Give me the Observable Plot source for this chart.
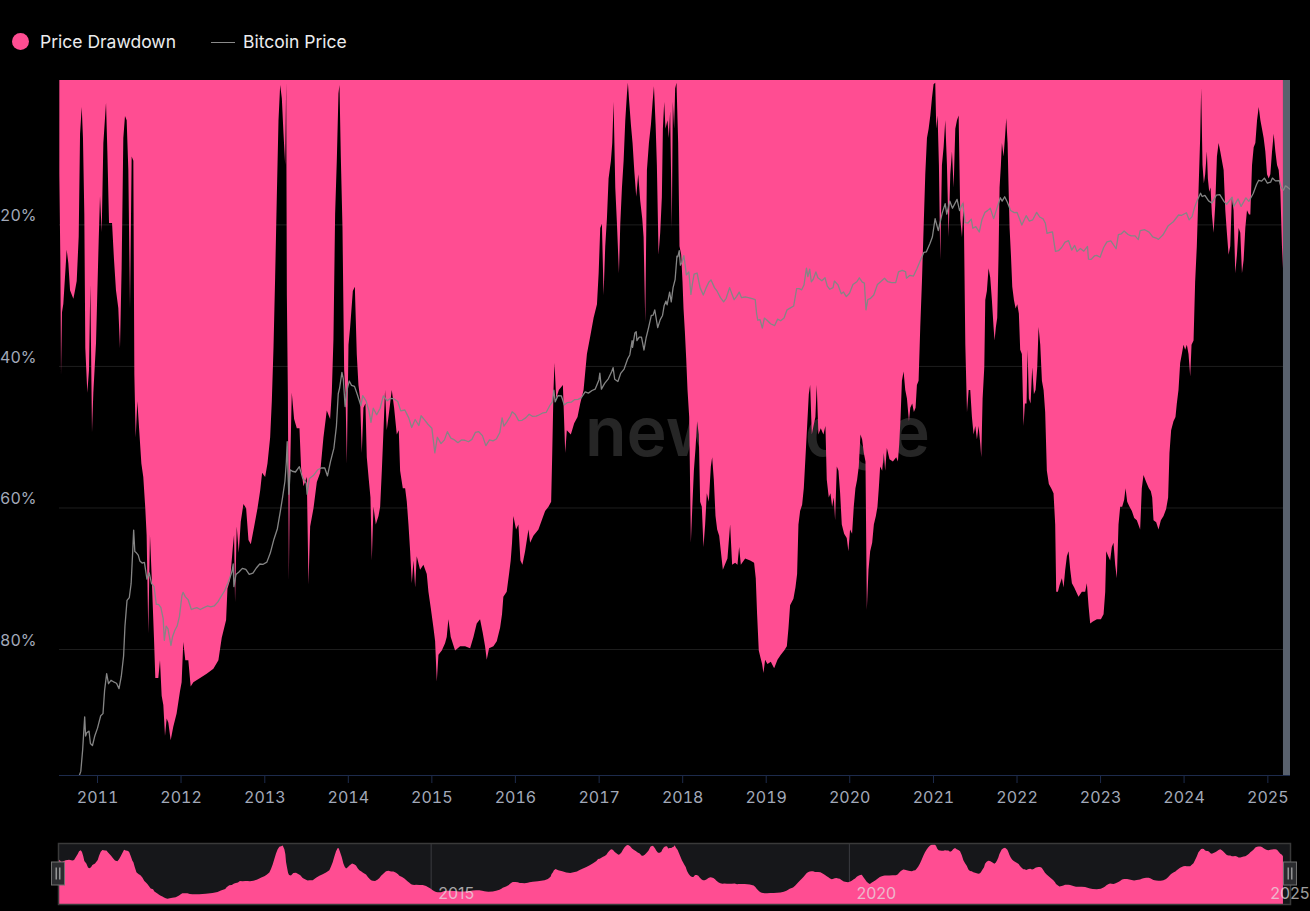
<!DOCTYPE html>
<html>
<head>
<meta charset="utf-8">
<script src="https://cdn.jsdelivr.net/npm/d3@7"></script>
<script src="https://cdn.jsdelivr.net/npm/@observablehq/plot@0.6"></script>
<style>
  html, body { margin: 0; padding: 0; background: #000; width: 1310px; height: 911px; overflow: hidden; }
  body { font-family: Inter, "Noto Sans", sans-serif; }
  svg { display: block; }
  #legend { position: relative; height: 70px; color: #ececee; font-size: 17.5px; }
  #legend .item { position: absolute; top: 30px; height: 24px; line-height: 24px; white-space: nowrap; }
  #legend .dot { position: absolute; left: 12px; top: 33px; width: 17px; height: 17px; border-radius: 50%; background: #ff4d92; }
  #legend .ln { position: absolute; left: 211px; top: 42px; width: 24px; height: 0; border-top: 1.5px solid #8a8a8a; }
</style>
</head>
<body>
<div id="legend">
  <div class="dot"></div><div class="item" style="left:40px">Price Drawdown</div>
  <div class="ln"></div><div class="item" style="left:243px">Bitcoin Price</div>
</div>
<div id="main"></div>
<div id="nav"></div>
<script>
// ---------- DATA ----------
// Price drawdown from all-time high, % (decimal year, drawdown %)
const priceDrawdown = [
[2010.549,12.9],[2010.561,24.9],[2010.569,41.2],[2010.581,32.4],[2010.597,31.2],[2010.637,23.6],[2010.657,25.5],[2010.677,29.3],[2010.717,30.5],[2010.737,29.3],[2010.757,28.0],[2010.781,21.7],[2010.797,7.2],[2010.817,3.4],[2010.832,7.8],[2010.848,18.5],[2010.860,37.5],[2010.884,43.8],[2010.904,40.6],[2010.920,28.6],[2010.940,49.4],[2010.956,43.8],[2010.988,36.8],
[2011.020,22.3],[2011.036,16.0],[2011.056,21.1],[2011.076,8.5],[2011.108,2.8],[2011.124,9.7],[2011.144,19.8],[2011.180,19.8],[2011.203,24.9],[2011.227,29.3],[2011.255,31.8],[2011.275,37.5],[2011.295,26.1],[2011.315,7.8],[2011.335,4.7],[2011.355,5.3],[2011.375,12.3],[2011.395,31.8],[2011.415,10.4],[2011.435,11.0],[2011.447,41.2],[2011.463,50.1],[2011.483,45.0],[2011.507,49.4],[2011.531,53.8],[2011.554,55.7],[2011.578,60.1],[2011.594,63.9],[2011.614,77.8],[2011.634,63.9],[2011.654,69.6],[2011.682,78.4],[2011.698,84.1],[2011.734,84.1],[2011.754,81.6],[2011.774,86.6],[2011.794,87.9],[2011.814,92.3],[2011.834,89.8],[2011.854,90.4],[2011.882,92.9],[2011.913,91.0],[2011.953,89.1],[2011.993,86.0],
[2012.013,84.7],[2012.033,79.0],[2012.057,81.6],[2012.093,81.6],[2012.121,85.3],[2012.153,84.7],[2012.233,84.1],[2012.312,83.5],[2012.392,82.8],[2012.452,81.6],[2012.492,78.4],[2012.544,75.9],[2012.560,71.5],[2012.592,70.2],[2012.623,65.8],[2012.639,63.9],[2012.651,73.4],[2012.671,62.7],[2012.695,66.4],[2012.719,62.0],[2012.751,59.5],[2012.783,60.1],[2012.811,64.6],[2012.839,65.2],[2012.879,62.7],[2012.919,60.1],[2012.951,57.6],[2012.974,55.1],
[2013.010,55.7],[2013.038,53.8],[2013.070,50.1],[2013.090,45.0],[2013.110,37.5],[2013.130,27.4],[2013.150,16.0],[2013.170,5.3],[2013.190,0.3],[2013.210,2.2],[2013.230,7.2],[2013.250,11.6],[2013.262,0.0],[2013.270,29.9],[2013.282,43.8],[2013.294,70.2],[2013.306,56.4],[2013.329,43.8],[2013.357,47.5],[2013.389,48.8],[2013.421,48.8],[2013.441,54.5],[2013.469,57.0],[2013.509,55.7],[2013.529,70.9],[2013.549,62.7],[2013.589,60.1],[2013.629,56.4],[2013.669,55.1],[2013.708,50.1],[2013.748,46.3],[2013.788,47.5],[2013.808,43.8],[2013.828,36.2],[2013.848,18.5],[2013.868,11.0],[2013.888,1.5],[2013.900,0.3],[2013.916,10.4],[2013.936,20.4],[2013.956,40.6],[2013.972,43.8],[2013.988,53.8],
[2014.008,37.0],[2014.028,34.5],[2014.060,29.4],[2014.084,28.8],[2014.107,38.3],[2014.127,42.7],[2014.147,44.6],[2014.167,52.3],[2014.187,45.9],[2014.211,45.3],[2014.227,52.9],[2014.251,56.1],[2014.271,58.6],[2014.287,67.5],[2014.307,59.9],[2014.335,62.4],[2014.367,61.2],[2014.387,59.9],[2014.407,54.8],[2014.427,49.1],[2014.446,43.4],[2014.466,49.1],[2014.494,46.5],[2014.526,43.4],[2014.554,45.9],[2014.586,49.7],[2014.610,49.1],[2014.626,54.8],[2014.658,57.3],[2014.686,57.3],[2014.706,59.2],[2014.726,62.4],[2014.746,66.2],[2014.766,70.7],[2014.786,67.5],[2014.806,71.3],[2014.825,66.9],[2014.865,68.8],[2014.905,68.1],[2014.945,69.4],[2014.965,71.9],[2014.993,74.2],
[2015.025,77.0],[2015.045,78.9],[2015.065,84.6],[2015.085,80.8],[2015.125,80.2],[2015.164,79.2],[2015.184,78.3],[2015.204,75.8],[2015.232,78.3],[2015.284,80.2],[2015.344,79.6],[2015.404,79.6],[2015.464,79.9],[2015.504,78.3],[2015.543,76.4],[2015.583,75.8],[2015.615,77.7],[2015.643,79.6],[2015.663,81.5],[2015.691,79.9],[2015.743,79.6],[2015.783,78.9],[2015.823,77.0],[2015.846,75.1],[2015.862,72.6],[2015.902,71.9],[2015.930,69.4],[2015.950,67.5],[2015.966,65.0],[2015.982,61.2],
[2016.014,63.1],[2016.042,62.4],[2016.066,67.5],[2016.090,68.1],[2016.122,66.2],[2016.162,63.1],[2016.182,65.0],[2016.221,64.0],[2016.281,63.1],[2016.321,61.8],[2016.361,60.5],[2016.401,59.9],[2016.433,59.2],[2016.445,52.9],[2016.461,43.4],[2016.473,39.6],[2016.493,44.6],[2016.525,43.4],[2016.573,42.7],[2016.601,52.3],[2016.620,49.1],[2016.668,49.7],[2016.708,48.1],[2016.748,47.2],[2016.780,45.3],[2016.820,43.4],[2016.860,38.3],[2016.900,35.8],[2016.940,33.2],[2016.980,31.3],
[2017.000,26.9],[2017.019,20.5],[2017.039,19.9],[2017.059,30.0],[2017.079,23.1],[2017.099,19.2],[2017.119,13.5],[2017.147,11.0],[2017.163,8.5],[2017.179,2.7],[2017.199,14.8],[2017.219,19.9],[2017.243,26.9],[2017.259,19.9],[2017.279,14.8],[2017.299,11.0],[2017.319,5.3],[2017.339,1.5],[2017.350,0.0],[2017.366,2.7],[2017.386,5.9],[2017.406,8.5],[2017.426,12.3],[2017.450,16.1],[2017.474,12.9],[2017.498,16.7],[2017.522,19.2],[2017.538,21.8],[2017.558,33.8],[2017.578,12.3],[2017.602,8.5],[2017.626,5.9],[2017.646,2.7],[2017.662,0.5],[2017.682,5.9],[2017.697,11.6],[2017.717,24.3],[2017.737,21.2],[2017.757,16.1],[2017.769,6.5],[2017.785,2.7],[2017.800,6.5],[2017.824,5.3],[2017.840,7.8],[2017.856,4.0],[2017.876,20.5],[2017.888,2.7],[2017.904,6.5],[2017.916,0.8],[2017.932,0.0],[2017.952,8.5],[2017.968,23.1],[2017.988,24.3],
[2018.004,28.1],[2018.016,31.9],[2018.032,35.1],[2018.048,38.9],[2018.064,43.4],[2018.084,47.2],[2018.104,65.0],[2018.124,59.2],[2018.140,54.8],[2018.160,51.6],[2018.179,47.8],[2018.199,49.7],[2018.215,59.2],[2018.235,59.9],[2018.255,65.6],[2018.275,62.4],[2018.295,58.0],[2018.319,59.2],[2018.343,54.2],[2018.359,52.9],[2018.379,56.1],[2018.399,61.2],[2018.419,63.1],[2018.443,64.0],[2018.463,66.2],[2018.487,68.8],[2018.511,68.1],[2018.542,67.2],[2018.574,62.4],[2018.598,68.1],[2018.634,67.8],[2018.662,68.1],[2018.682,65.6],[2018.702,68.1],[2018.754,67.2],[2018.814,67.5],[2018.861,67.8],[2018.881,70.0],[2018.897,75.1],[2018.917,80.2],[2018.937,81.2],[2018.957,82.1],[2018.973,83.4],[2018.993,81.5],
[2019.021,82.1],[2019.061,81.8],[2019.101,82.7],[2019.141,81.5],[2019.181,80.8],[2019.221,80.2],[2019.253,79.6],[2019.273,77.0],[2019.292,73.8],[2019.332,72.9],[2019.356,71.3],[2019.376,69.4],[2019.392,62.4],[2019.412,60.5],[2019.436,59.6],[2019.456,57.3],[2019.476,52.9],[2019.496,48.5],[2019.516,44.0],[2019.532,42.7],[2019.552,49.7],[2019.572,48.5],[2019.595,47.2],[2019.611,42.7],[2019.631,49.7],[2019.659,48.8],[2019.691,49.7],[2019.715,48.5],[2019.731,56.1],[2019.755,58.6],[2019.775,58.0],[2019.795,59.9],[2019.815,58.6],[2019.831,61.8],[2019.851,54.2],[2019.871,54.8],[2019.891,58.0],[2019.911,62.4],[2019.939,63.7],[2019.970,64.3],[2019.990,66.2],
[2020.010,63.1],[2020.034,63.7],[2020.054,59.9],[2020.074,57.3],[2020.094,56.1],[2020.114,54.2],[2020.134,49.7],[2020.154,50.4],[2020.174,52.3],[2020.194,53.5],[2020.210,74.5],[2020.230,68.8],[2020.250,66.2],[2020.274,65.0],[2020.294,62.4],[2020.318,61.2],[2020.337,59.9],[2020.353,57.3],[2020.369,54.2],[2020.393,54.8],[2020.413,52.3],[2020.429,54.8],[2020.449,51.6],[2020.481,53.2],[2020.521,53.5],[2020.561,52.9],[2020.581,53.5],[2020.597,51.0],[2020.613,47.2],[2020.629,42.1],[2020.649,40.8],[2020.669,43.4],[2020.689,44.6],[2020.713,47.8],[2020.729,45.9],[2020.752,45.3],[2020.772,46.5],[2020.792,45.9],[2020.808,42.7],[2020.828,42.1],[2020.848,34.5],[2020.868,28.1],[2020.888,20.5],[2020.908,12.9],[2020.928,7.8],[2020.948,6.5],[2020.968,4.6],[2020.988,2.1],
[2021.007,0.2],[2021.027,0.0],[2021.039,6.5],[2021.055,4.6],[2021.071,11.6],[2021.087,25.0],[2021.107,11.6],[2021.127,9.1],[2021.147,5.3],[2021.167,11.6],[2021.187,21.8],[2021.207,12.9],[2021.227,9.7],[2021.247,14.8],[2021.267,6.5],[2021.287,5.3],[2021.307,4.6],[2021.327,19.2],[2021.347,21.8],[2021.367,16.7],[2021.387,37.0],[2021.407,46.5],[2021.427,43.4],[2021.446,43.4],[2021.466,47.2],[2021.486,49.7],[2021.506,48.5],[2021.526,50.4],[2021.546,48.5],[2021.566,51.0],[2021.578,52.9],[2021.594,44.6],[2021.614,40.2],[2021.626,30.7],[2021.645,29.4],[2021.665,26.2],[2021.685,27.5],[2021.705,30.7],[2021.725,34.5],[2021.737,36.4],[2021.753,34.5],[2021.769,33.2],[2021.785,24.3],[2021.797,14.8],[2021.813,11.6],[2021.825,8.5],[2021.845,10.4],[2021.865,7.2],[2021.877,5.0],[2021.893,8.5],[2021.905,14.8],[2021.917,20.5],[2021.933,24.3],[2021.949,28.8],[2021.969,30.7],[2021.989,31.9],
[2022.009,31.3],[2022.028,32.6],[2022.044,37.7],[2022.064,38.3],[2022.084,48.5],[2022.100,45.3],[2022.120,45.3],[2022.132,37.7],[2022.148,44.6],[2022.168,45.3],[2022.188,40.2],[2022.208,44.0],[2022.228,43.4],[2022.248,40.2],[2022.264,34.5],[2022.284,37.0],[2022.304,42.1],[2022.324,43.4],[2022.343,46.5],[2022.363,54.8],[2022.387,56.7],[2022.415,57.3],[2022.443,58.0],[2022.463,62.4],[2022.475,71.9],[2022.495,71.9],[2022.515,71.0],[2022.543,70.0],[2022.563,71.3],[2022.583,68.8],[2022.603,66.9],[2022.623,66.2],[2022.643,68.8],[2022.663,70.7],[2022.691,71.3],[2022.714,71.9],[2022.742,72.6],[2022.782,71.9],[2022.822,71.9],[2022.842,70.7],[2022.862,73.9],[2022.882,76.4],[2022.914,76.1],[2022.962,75.8],
[2023.010,75.8],[2023.042,75.1],[2023.062,71.9],[2023.074,66.2],[2023.098,66.9],[2023.121,67.5],[2023.141,65.6],[2023.161,65.0],[2023.181,68.1],[2023.201,70.0],[2023.221,62.4],[2023.241,59.9],[2023.265,59.9],[2023.289,58.9],[2023.305,57.3],[2023.325,59.2],[2023.353,59.9],[2023.381,60.5],[2023.409,61.5],[2023.440,61.8],[2023.480,63.1],[2023.500,57.3],[2023.520,55.4],[2023.552,56.4],[2023.584,57.3],[2023.608,57.7],[2023.624,58.6],[2023.640,61.8],[2023.672,62.1],[2023.700,63.1],[2023.728,61.8],[2023.760,61.2],[2023.791,60.2],[2023.815,58.6],[2023.831,52.3],[2023.851,49.1],[2023.879,47.8],[2023.903,47.2],[2023.919,45.3],[2023.939,43.4],[2023.959,39.6],[2023.979,38.3],[2023.999,37.0],
[2024.019,37.7],[2024.039,37.0],[2024.059,38.3],[2024.079,41.5],[2024.095,37.0],[2024.119,36.4],[2024.138,28.1],[2024.158,23.1],[2024.178,15.4],[2024.198,7.8],[2024.210,0.8],[2024.226,11.6],[2024.242,14.2],[2024.258,12.9],[2024.278,9.7],[2024.290,13.5],[2024.306,15.4],[2024.322,14.8],[2024.338,18.6],[2024.358,21.2],[2024.378,17.3],[2024.398,10.4],[2024.418,8.5],[2024.438,9.7],[2024.458,11.0],[2024.478,12.3],[2024.498,18.0],[2024.517,21.2],[2024.537,24.3],[2024.557,23.1],[2024.577,16.1],[2024.597,18.0],[2024.617,26.9],[2024.637,24.3],[2024.657,20.5],[2024.677,21.2],[2024.697,26.9],[2024.717,25.0],[2024.737,20.5],[2024.757,18.0],[2024.781,18.6],[2024.797,18.6],[2024.817,11.6],[2024.837,9.1],[2024.857,8.5],[2024.877,5.3],[2024.897,3.4],[2024.917,5.3],[2024.936,6.5],[2024.956,7.8],[2024.976,9.7],[2024.996,12.9],
[2025.016,13.5],[2025.036,12.9],[2025.056,9.7],[2025.076,7.2],[2025.096,9.7],[2025.116,11.6],[2025.136,12.3],[2025.156,15.4],[2025.175,23.1],[2025.187,26.2]
];

// Bitcoin price, USD (date, close)
const btcPrice = [
["2010-07-18",0.086],["2010-08-01",0.063],["2010-08-15",0.07],["2010-09-01",0.064],["2010-09-15",0.062],["2010-10-01",0.062],["2010-10-10",0.095],["2010-10-20",0.11],["2010-10-28",0.18],["2010-11-06",0.39],["2010-11-10",0.25],["2010-11-15",0.27],["2010-11-25",0.28],["2010-12-01",0.21],["2010-12-10",0.20],["2010-12-20",0.25],
["2011-01-01",0.30],["2011-01-15",0.40],["2011-01-25",0.42],["2011-02-01",0.72],["2011-02-10",1.06],["2011-02-18",0.84],["2011-03-01",0.91],["2011-03-15",0.87],["2011-03-25",0.85],["2011-04-05",0.75],["2011-04-15",1.0],["2011-04-25",1.6],["2011-05-01",3.2],["2011-05-10",5.8],["2011-05-20",6.2],["2011-05-28",8.6],["2011-06-04",18.5],["2011-06-08",29.6],["2011-06-13",18],["2011-06-20",17.5],["2011-06-28",16.6],["2011-07-05",14.5],["2011-07-15",13.8],["2011-07-25",14.0],["2011-08-05",9.5],["2011-08-15",11.0],["2011-08-25",8.6],["2011-09-05",8.0],["2011-09-15",5.3],["2011-09-25",5.3],["2011-10-05",4.9],["2011-10-15",3.8],["2011-10-20",2.3],["2011-10-28",3.2],["2011-11-05",3.0],["2011-11-18",2.04],["2011-11-25",2.5],["2011-12-05",2.9],["2011-12-15",3.2],["2011-12-25",4.0],
["2012-01-05",6.5],["2012-01-10",7.0],["2012-01-20",6.3],["2012-02-01",5.9],["2012-02-15",4.7],["2012-02-25",4.8],["2012-03-10",4.9],["2012-03-25",4.7],["2012-04-10",4.9],["2012-04-25",5.1],["2012-05-10",5.0],["2012-05-25",5.1],["2012-06-10",5.6],["2012-06-25",6.4],["2012-07-10",7.3],["2012-07-25",8.8],["2012-08-10",11.2],["2012-08-16",13.5],["2012-08-19",8.0],["2012-08-28",10.6],["2012-09-10",11.2],["2012-09-25",12.2],["2012-10-10",11.9],["2012-10-25",10.6],["2012-11-10",10.9],["2012-11-25",12.3],["2012-12-10",13.5],["2012-12-25",13.4],
["2013-01-10",14.1],["2013-01-25",17.4],["2013-02-10",24.0],["2013-02-25",30.6],["2013-03-10",46],["2013-03-20",64],["2013-03-30",92],["2013-04-05",142],["2013-04-09",230],["2013-04-12",117],["2013-04-16",68],["2013-04-22",120],["2013-05-01",116],["2013-05-15",114],["2013-06-01",129],["2013-06-15",100],["2013-07-01",88],["2013-07-05",68],["2013-07-15",98],["2013-08-01",105],["2013-08-20",120],["2013-09-05",125],["2013-09-20",125],["2013-10-02",104],["2013-10-15",145],["2013-10-30",198],["2013-11-10",330],["2013-11-18",700],["2013-11-24",800],["2013-12-04",1150],["2013-12-10",990],["2013-12-18",520],["2013-12-26",760],
["2014-01-05",940],["2014-01-15",850],["2014-01-28",830],["2014-02-10",680],["2014-02-25",530],["2014-03-05",670],["2014-03-20",590],["2014-04-01",470],["2014-04-10",360],["2014-04-20",500],["2014-05-05",430],["2014-05-20",500],["2014-06-03",665],["2014-06-20",595],["2014-07-05",630],["2014-07-20",620],["2014-08-05",585],["2014-08-18",470],["2014-09-05",480],["2014-09-22",400],["2014-10-05",320],["2014-10-20",385],["2014-11-05",335],["2014-11-15",420],["2014-12-01",380],["2014-12-15",345],
["2015-01-01",315],["2015-01-14",178],["2015-01-25",255],["2015-02-10",220],["2015-02-25",240],["2015-03-10",290],["2015-03-25",250],["2015-04-10",240],["2015-04-25",225],["2015-05-10",240],["2015-05-25",238],["2015-06-10",230],["2015-06-25",243],["2015-07-10",285],["2015-07-25",290],["2015-08-10",265],["2015-08-25",210],["2015-09-10",240],["2015-09-25",235],["2015-10-10",245],["2015-10-25",285],["2015-11-04",400],["2015-11-12",330],["2015-11-25",365],["2015-12-10",415],["2015-12-18",460],
["2016-01-01",433],["2016-01-15",375],["2016-01-30",378],["2016-02-15",400],["2016-03-01",435],["2016-03-15",415],["2016-04-01",417],["2016-04-15",430],["2016-05-01",450],["2016-05-15",455],["2016-05-30",530],["2016-06-10",575],["2016-06-17",760],["2016-06-23",580],["2016-07-05",670],["2016-07-20",665],["2016-08-02",540],["2016-08-15",570],["2016-09-01",575],["2016-09-15",610],["2016-10-01",615],["2016-10-15",640],["2016-11-01",730],["2016-11-15",710],["2016-12-01",755],["2016-12-15",780],["2016-12-31",965],
["2017-01-04",1130],["2017-01-11",780],["2017-01-25",890],["2017-02-10",990],["2017-02-25",1170],["2017-03-03",1280],["2017-03-10",980],["2017-03-24",930],["2017-04-05",1120],["2017-04-20",1240],["2017-05-05",1560],["2017-05-15",1720],["2017-05-25",2400],["2017-05-27",2050],["2017-06-06",2860],["2017-06-12",2950],["2017-06-15",2400],["2017-06-25",2600],["2017-07-05",2600],["2017-07-16",1930],["2017-07-25",2550],["2017-08-05",3250],["2017-08-17",4300],["2017-08-25",4330],["2017-09-01",4900],["2017-09-14",3250],["2017-09-25",3900],["2017-10-05",4300],["2017-10-12",5400],["2017-10-20",6000],["2017-10-25",5500],["2017-11-05",7400],["2017-11-12",5900],["2017-11-20",8200],["2017-11-29",9900],["2017-12-07",17000],["2017-12-11",16800],["2017-12-17",19300],["2017-12-22",13800],["2017-12-28",14600],
["2018-01-06",17200],["2018-01-12",13800],["2018-01-17",11000],["2018-01-28",11800],["2018-02-06",7000],["2018-02-12",8800],["2018-02-20",11200],["2018-03-05",11500],["2018-03-18",8200],["2018-04-01",6900],["2018-04-15",8300],["2018-04-25",9300],["2018-05-05",9800],["2018-05-20",8200],["2018-06-01",7500],["2018-06-15",6500],["2018-06-29",5900],["2018-07-10",6400],["2018-07-25",8200],["2018-08-05",7000],["2018-08-14",6200],["2018-08-25",6700],["2018-09-05",7400],["2018-09-15",6500],["2018-10-01",6600],["2018-10-15",6500],["2018-11-01",6350],["2018-11-14",6200],["2018-11-20",4500],["2018-11-25",3850],["2018-12-05",3900],["2018-12-15",3200],["2018-12-24",4050],
["2019-01-05",3850],["2019-01-20",3550],["2019-02-07",3400],["2019-02-20",3950],["2019-03-05",3800],["2019-03-20",4050],["2019-04-02",4900],["2019-04-15",5100],["2019-05-01",5350],["2019-05-14",8000],["2019-05-25",8000],["2019-06-05",7800],["2019-06-15",8700],["2019-06-26",12900],["2019-07-02",10600],["2019-07-10",12600],["2019-07-17",9400],["2019-07-25",9900],["2019-08-06",11800],["2019-08-15",10300],["2019-09-01",9600],["2019-09-15",10300],["2019-09-25",8500],["2019-10-06",7900],["2019-10-20",8200],["2019-10-26",9550],["2019-11-10",8800],["2019-11-25",7100],["2019-12-05",7400],["2019-12-17",6650],["2019-12-31",7200],
["2020-01-15",8800],["2020-02-01",9400],["2020-02-12",10300],["2020-02-25",9300],["2020-03-05",9100],["2020-03-12",4900],["2020-03-20",6200],["2020-04-01",6400],["2020-04-15",6900],["2020-05-01",8800],["2020-05-15",9400],["2020-06-01",10200],["2020-06-15",9400],["2020-07-01",9200],["2020-07-20",9200],["2020-08-01",11800],["2020-08-17",12250],["2020-09-01",11900],["2020-09-05",10200],["2020-09-20",10900],["2020-10-05",10700],["2020-10-21",12800],["2020-11-05",15500],["2020-11-20",18600],["2020-12-01",18800],["2020-12-17",23000],["2020-12-27",26500],
["2021-01-08",40500],["2021-01-22",30800],["2021-02-08",46200],["2021-02-21",57500],["2021-02-28",45000],["2021-03-13",61000],["2021-03-25",51700],["2021-04-14",63500],["2021-04-25",49000],["2021-05-09",58000],["2021-05-19",37000],["2021-06-01",36700],["2021-06-15",40200],["2021-06-22",32500],["2021-07-05",33800],["2021-07-20",29800],["2021-08-01",39900],["2021-08-14",47000],["2021-08-25",48900],["2021-09-06",51800],["2021-09-21",40600],["2021-10-05",51500],["2021-10-20",65900],["2021-10-28",61000],["2021-11-08",67500],["2021-11-20",59500],["2021-12-04",49000],["2021-12-20",46700],
["2022-01-01",47000],["2022-01-22",35000],["2022-02-10",43500],["2022-02-24",38300],["2022-03-10",39400],["2022-03-28",47000],["2022-04-10",42200],["2022-04-25",40400],["2022-05-05",36500],["2022-05-12",28900],["2022-05-25",29500],["2022-06-05",29900],["2022-06-13",22400],["2022-06-18",19000],["2022-07-01",19300],["2022-07-15",20800],["2022-07-30",23600],["2022-08-14",24400],["2022-08-28",19600],["2022-09-10",21800],["2022-09-20",18900],["2022-10-05",20300],["2022-10-20",19100],["2022-11-05",21300],["2022-11-09",15900],["2022-11-21",15800],["2022-12-05",17100],["2022-12-15",17300],["2022-12-30",16600],
["2023-01-15",20900],["2023-01-29",23700],["2023-02-15",24300],["2023-03-10",20200],["2023-03-20",28000],["2023-04-01",28500],["2023-04-14",30500],["2023-05-01",28100],["2023-05-15",27200],["2023-06-01",27200],["2023-06-15",25000],["2023-06-23",30700],["2023-07-13",31400],["2023-08-01",29700],["2023-08-17",26600],["2023-09-01",25900],["2023-09-11",25100],["2023-10-01",27900],["2023-10-24",34500],["2023-11-15",37800],["2023-12-08",44200],["2023-12-20",43700],
["2024-01-11",46600],["2024-01-23",39500],["2024-02-05",42600],["2024-02-15",51900],["2024-02-28",62500],["2024-03-13",73100],["2024-03-20",67900],["2024-04-01",69700],["2024-04-17",61300],["2024-05-01",58300],["2024-05-21",70100],["2024-06-05",71000],["2024-06-24",60300],["2024-07-05",56700],["2024-07-29",66800],["2024-08-05",54000],["2024-08-24",64200],["2024-09-06",53900],["2024-09-27",65800],["2024-10-10",60600],["2024-10-29",72700],["2024-11-13",90000],["2024-11-22",98900],["2024-12-05",97000],["2024-12-17",104000],["2024-12-30",92300],
["2025-01-13",94500],["2025-01-21",104000],["2025-02-03",97500],["2025-02-20",98300],["2025-02-28",84300],["2025-03-10",78600],["2025-03-19",86800],["2025-03-28",84300],["2025-04-10",79500]
];

const xStart = 2010.545;            // left edge of the time axis (decimal year)
const xEnd = "2025-04-10";          // right edge of the time axis
const xTickYears = [2011,2012,2013,2014,2015,2016,2017,2018,2019,2020,2021,2022,2023,2024,2025];
const yTicks = [20, 40, 60, 80];    // drawdown gridlines, %
const yDomain = [-0.4, 97.8];       // drawdown axis, % (top, bottom)
const priceDomain = [0.1, 1000000]; // hidden log price axis, USD (bottom, top)
const navTickYears = [2015, 2020];
const navEndYear = [2025];
const highlight = [{start: 2025.187, end: "2025-04-10"}];

// ---------- HELPERS ----------
function yearToDate(t) {
  const y = Math.floor(t), a = Date.UTC(y, 0, 1), b = Date.UTC(y + 1, 0, 1);
  return new Date(a + (t - y) * (b - a));
}
const ddData = priceDrawdown.map(([t, v]) => ({date: yearToDate(t), dd: v}));
const priceData = btcPrice.map(([d, p]) => ({date: new Date(d), price: p}));
const priceToY = d3.scaleLog().domain(priceDomain).range([yDomain[1], yDomain[0]]);
const xDomain = [yearToDate(xStart), new Date(xEnd)];
const xTicks = xTickYears.map(y => new Date(Date.UTC(y, 0, 1)));
const navTicks = navTickYears.map(y => new Date(Date.UTC(y, 0, 1)));
const hl = highlight.map(h => ({start: yearToDate(h.start), end: new Date(h.end)}));

const PINK = "#ff4d92";
const AXIS_TEXT = "#a2a9b9";
const AXIS_LINE = "#1d2b4c";

// ---------- MAIN CHART ----------
const main = Plot.plot({
  width: 1310, height: 760,
  marginTop: 10, marginBottom: 55, marginLeft: 59, marginRight: 20,
  style: {background: "transparent", color: AXIS_TEXT, fontFamily: "Inter, sans-serif", fontSize: "16px"},
  x: {type: "utc", domain: xDomain, label: null},
  y: {domain: yDomain, reverse: true, label: null},
  marks: [
    Plot.gridY(yTicks, {stroke: "#1e1e1e", strokeOpacity: 1}),
    Plot.text(["newhedge"], {frameAnchor: "middle", textAnchor: "start", dx: -90, dy: 6,
      fontSize: 68, fontWeight: 600, fill: "#262626"}),
    Plot.areaY(ddData, {x: "date", y1: yDomain[0], y2: "dd", fill: PINK}),
    Plot.rect(hl, {x1: "start", x2: "end", fill: "#59616d"}),
    Plot.line(priceData, {x: "date", y: d => priceToY(d.price), stroke: "#858585", strokeWidth: 1.3, clip: true}),
    Plot.ruleY([yDomain[1]], {stroke: AXIS_LINE, strokeWidth: 1.2}),
    Plot.axisX({ticks: xTicks, tickFormat: d3.utcFormat("%Y"), tickSize: 8, tickPadding: 8,
      stroke: AXIS_LINE, fill: AXIS_TEXT, fontSize: 16, label: null}),
    Plot.axisY({ticks: yTicks, tickFormat: d => `${d}%`, tickSize: 0, tickPadding: 23, dy: -9,
      fill: AXIS_TEXT, fontSize: 16, label: null})
  ]
});
document.getElementById("main").appendChild(main);

// ---------- NAVIGATOR ----------
const navH = 81, navTop = 13, navBottom = 7;
const nav = Plot.plot({
  width: 1310, height: navH,
  marginTop: navTop, marginBottom: navBottom, marginLeft: 58, marginRight: 20,
  style: {background: "transparent", color: "#ddd", fontFamily: "Inter, sans-serif", fontSize: "16px"},
  x: {type: "utc", domain: xDomain, axis: null},
  y: {domain: [0, 100], reverse: true, axis: null},
  marks: [
    Plot.frame({fill: "#16171a", stroke: null}),
    Plot.ruleX(navTicks, {stroke: "#3b3c40"}),
    Plot.areaY(ddData, Plot.windowY({k: 5, reduce: "mean"}, {x: "date", y1: 100, y2: "dd", fill: PINK})),
    Plot.text(navTicks, {x: d => d, text: d => d3.utcFormat("%Y")(d), frameAnchor: "bottom",
      textAnchor: "start", dx: 7, dy: -6, fill: "#e6e6e6", fillOpacity: 0.7, fontSize: 16}),
    Plot.text(navEndYear, {text: d => String(d), frameAnchor: "bottom-right",
      textAnchor: "end", dx: 19, dy: -6, fill: "#e6e6e6", fillOpacity: 0.7, fontSize: 16}),
    Plot.frame({stroke: "#3a3a3a", strokeWidth: 1.5})
  ]
});
document.getElementById("nav").appendChild(nav);

// range handles at both ends of the navigator
(function () {
  const sx = nav.scale("x");
  const cy = navTop + (navH - navTop - navBottom) / 2;
  const g = d3.select(nav).append("g");
  xDomain.forEach(d => {
    const cx = sx.apply(d);
    const h = g.append("g").attr("transform", `translate(${cx},${cy})`);
    h.append("rect").attr("x", -6.5).attr("y", -11.5).attr("width", 13).attr("height", 23)
      .attr("fill", "#2b2c2f").attr("stroke", "#707070").attr("stroke-width", 1);
    [-1.8, 1.8].forEach(o => h.append("line").attr("x1", o).attr("x2", o).attr("y1", -6).attr("y2", 6)
      .attr("stroke", "#b0b0b0").attr("stroke-width", 1.2));
  });
})();
</script>
</body>
</html>
